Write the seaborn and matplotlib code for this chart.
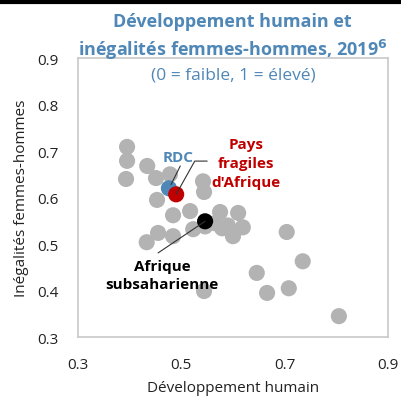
import matplotlib
matplotlib.use("Agg")
import matplotlib.pyplot as plt
import seaborn as sns
import pandas as pd
from matplotlib.lines import Line2D

# Développement humain (x) vs inégalités femmes-hommes (y), 2019
pays_x = [0.395, 0.395, 0.393, 0.434, 0.451, 0.478, 0.453, 0.542, 0.544, 0.484,
          0.517, 0.575, 0.610, 0.523, 0.579, 0.600, 0.619, 0.546, 0.455, 0.484,
          0.433, 0.565, 0.590, 0.704, 0.735, 0.646, 0.666, 0.708, 0.544, 0.805]
pays_y = [0.709, 0.679, 0.640, 0.668, 0.642, 0.650, 0.595, 0.635, 0.612, 0.562,
          0.571, 0.569, 0.567, 0.532, 0.534, 0.517, 0.536, 0.538, 0.524, 0.517,
          0.504, 0.545, 0.540, 0.526, 0.463, 0.438, 0.395, 0.405, 0.399, 0.345]

groupes = ["RDC", "Pays fragiles d'Afrique", "Afrique subsaharienne"]
groupes_x = [0.476, 0.490, 0.546]
groupes_y = [0.620, 0.607, 0.549]

BLEU = "#4f87b7"
ROUGE = "#c00000"
GRIS = "#b3b3b3"

sns.set_style("white")
plt.rcParams["font.family"] = ["Open Sans", "DejaVu Sans"]

df = pd.DataFrame({"x": pays_x + groupes_x, "y": pays_y + groupes_y,
                   "cat": ["pays"] * len(pays_x) + groupes})
palette = {"pays": GRIS, "RDC": BLEU, "Pays fragiles d'Afrique": ROUGE,
           "Afrique subsaharienne": "black"}

fig = plt.figure(figsize=(4.01, 4.02), dpi=100)
ax = fig.add_axes([0.1945, 0.159, 0.773, 0.694])
sns.scatterplot(data=df, x="x", y="y", hue="cat", palette=palette, s=135,
                linewidth=0, legend=False, ax=ax, zorder=3)

ax.set_xlim(0.3, 0.9)
ax.set_ylim(0.3, 0.9)
ax.set_xticks([0.3, 0.5, 0.7, 0.9])
ax.set_yticks([0.3, 0.4, 0.5, 0.6, 0.7, 0.8, 0.9])
ax.set_xticklabels(["0.3", "0.5", "0.7", "0.9"])
ax.set_yticklabels(["0.3", "0.4", "0.5", "0.6", "0.7", "0.8", "0.9"])
ax.tick_params(direction="in", length=5, color="#bfbfbf", labelsize=11,
               labelcolor="#222222", pad=14)
ax.tick_params(axis="x", pad=14)
for s in ax.spines.values():
    s.set_color("#c8c8c8")
    s.set_linewidth(1.2)
ax.set_xlabel("Développement humain", fontsize=11, color="#222222", labelpad=6)
ax.set_ylabel("Inégalités femmes-hommes", fontsize=11, color="#222222", labelpad=6)

# annotations
ax.text(0.4945, 0.687, "RDC", color=BLEU, fontsize=11, fontweight="bold",
        ha="center", va="center")
ax.plot([0.498, 0.480], [0.668, 0.628], color="#333333", lw=0.8, zorder=4)
ax.plot([groupes_x[1], 0.526, 0.550], [groupes_y[1], 0.6785, 0.6785],
        color="#333333", lw=0.8, zorder=4)
ax.text(0.625, 0.674, "Pays\nfragiles\nd'Afrique", color=ROUGE, fontsize=11,
        fontweight="bold", ha="center", va="center", linespacing=1.45)
ax.plot([groupes_x[2], 0.455], [groupes_y[2], 0.481], color="#333333",
        lw=0.8, zorder=4)
ax.text(0.463, 0.433, "Afrique\nsubsaharienne", color="black", fontsize=11,
        fontweight="bold", ha="center", va="center", linespacing=1.4)

fig.text(0.58, 0.907, "Développement humain et\ninégalités femmes-hommes, 2019$^{\\mathbf{6}}$",
         color=BLEU, fontsize=13, fontweight="bold", ha="center", va="center",
         linespacing=1.35)
ax.text(0.6, 0.864, "(0 = faible, 1 = élevé)", color=BLEU, fontsize=12.5,
        ha="center", va="center")

fig.add_artist(Line2D([0, 1], [0.993, 0.993], color="black", lw=3))

fig.savefig("out.png", dpi=100)
